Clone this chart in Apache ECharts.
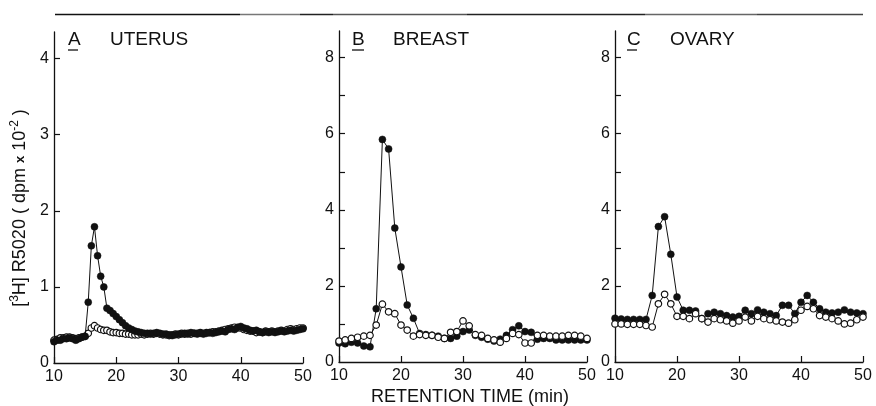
<!DOCTYPE html>
<html>
<head>
<meta charset="utf-8">
<script src="https://cdn.jsdelivr.net/npm/echarts@6/dist/echarts.min.js"></script>
<style>
  html, body { margin: 0; padding: 0; background: #fff; }
  #chart { width: 876px; height: 406px; }
</style>
</head>
<body>
<div id="chart"></div>
<script>
// Retention times (min): uterus fractions every 0.5 min, breast/ovary every 1 min
function timeGrid(start, end, step) {
  const out = [];
  for (let t = start; t <= end + 1e-9; t += step) out.push(Math.round(t * 10) / 10);
  return out;
}
const uterusTimes = timeGrid(10, 50, 0.5);
const breastOvaryTimes = timeGrid(10, 50, 1);

// [3H] R5020 bound (dpm x 10^-2) — filled = total, open = with competitor
const uterusFilled = [
  0.28, 0.30, 0.30, 0.32, 0.32, 0.33, 0.32, 0.30, 0.32, 0.34,
  0.35, 0.80, 1.54, 1.79, 1.41, 1.14, 1.00, 0.72, 0.69, 0.65,
  0.61, 0.57, 0.53, 0.49, 0.46, 0.44, 0.42, 0.41, 0.40, 0.39,
  0.39, 0.38, 0.39, 0.40, 0.39, 0.38, 0.38, 0.37, 0.36, 0.37,
  0.38, 0.38, 0.39, 0.38, 0.40, 0.39, 0.38, 0.39, 0.38, 0.39,
  0.40, 0.39, 0.40, 0.41, 0.42, 0.41, 0.44, 0.45, 0.44, 0.47,
  0.48, 0.46, 0.45, 0.43, 0.42, 0.43, 0.41, 0.40, 0.41, 0.40,
  0.41, 0.40, 0.41, 0.42, 0.41, 0.42, 0.43, 0.42, 0.43, 0.44,
  0.45
];
const uterusOpen = [
  0.30, 0.31, 0.33, 0.33, 0.34, 0.34, 0.33, 0.32, 0.33, 0.34,
  0.35, 0.39, 0.46, 0.49, 0.46, 0.44, 0.43, 0.43, 0.41, 0.40,
  0.40, 0.39, 0.39, 0.38, 0.38, 0.37, 0.37, 0.37, 0.38, 0.37,
  0.38, 0.39, 0.38, 0.39, 0.38, 0.37, 0.37, 0.36, 0.37, 0.38,
  0.37, 0.39, 0.38, 0.39, 0.38, 0.39, 0.39, 0.40, 0.39, 0.40,
  0.40, 0.41, 0.41, 0.42, 0.43, 0.44, 0.45, 0.46, 0.47, 0.46,
  0.46, 0.44, 0.43, 0.42, 0.42, 0.40, 0.41, 0.40, 0.42, 0.41,
  0.42, 0.41, 0.42, 0.43, 0.42, 0.44, 0.45, 0.44, 0.45, 0.46,
  0.46
];
const breastFilled = [
  0.50, 0.48, 0.52, 0.50, 0.42, 0.40, 1.40, 5.85, 5.60, 3.52,
  2.50, 1.50, 1.15, 0.75, 0.72, 0.70, 0.68, 0.62, 0.62, 0.68,
  0.80, 0.84, 0.70, 0.65, 0.60, 0.55, 0.60, 0.70, 0.85, 0.95,
  0.80, 0.78, 0.60, 0.62, 0.62, 0.58, 0.58, 0.58, 0.58, 0.58,
  0.58
];
const breastOpen = [
  0.55, 0.58, 0.62, 0.65, 0.68, 0.70, 0.97, 1.52, 1.32, 1.27,
  0.97, 0.84, 0.68, 0.72, 0.70, 0.70, 0.65, 0.62, 0.78, 0.80,
  1.08, 0.95, 0.72, 0.70, 0.62, 0.58, 0.52, 0.62, 0.75, 0.72,
  0.50, 0.50, 0.70, 0.70, 0.68, 0.68, 0.68, 0.70, 0.70, 0.68,
  0.62
];
const ovaryFilled = [
  1.15, 1.13, 1.12, 1.12, 1.12, 1.12, 1.75, 3.56, 3.82, 2.83,
  1.71, 1.36, 1.36, 1.34, 1.14, 1.27, 1.31, 1.27, 1.22, 1.18,
  1.20, 1.36, 1.27, 1.37, 1.31, 1.27, 1.22, 1.49, 1.49, 1.27,
  1.57, 1.75, 1.57, 1.40, 1.31, 1.29, 1.31, 1.37, 1.31, 1.29,
  1.27
];
const ovaryOpen = [
  1.00, 1.00, 0.99, 0.99, 0.99, 0.96, 0.92, 1.53, 1.78, 1.53,
  1.20, 1.20, 1.14, 1.27, 1.14, 1.05, 1.14, 1.11, 1.08, 1.02,
  1.08, 1.18, 1.08, 1.20, 1.14, 1.11, 1.08, 1.05, 1.02, 1.11,
  1.36, 1.46, 1.40, 1.22, 1.18, 1.14, 1.08, 1.00, 1.02, 1.11,
  1.18
];

const xTicks = [10, 20, 30, 40, 50];
const uterusYLabels = [0, 1, 2, 3, 4];
const uterusYTicks = [1, 2, 3, 4];
const wideYLabels = [0, 2, 4, 6, 8];
const wideYTicks = [1, 2, 3, 4, 5, 6, 7, 8];

const FONT = 'Liberation Sans';
const INK = '#111';

function pairs(times, values) {
  return times.map((t, i) => [t, values[i]]);
}

const grids = [
  { left: 54, top: 32, width: 249, height: 331 },
  { left: 339, top: 31, width: 248, height: 331 },
  { left: 615, top: 31, width: 248, height: 331 }
];

function xAxisFor(i) {
  return {
    type: 'value', gridIndex: i, min: 10, max: 50, interval: 10,
    axisLine: { lineStyle: { color: INK, width: 1.3 } },
    axisTick: { inside: true, length: 6, lineStyle: { color: INK, width: 1.2 } },
    axisLabel: { color: INK, fontSize: 16, fontFamily: FONT, margin: 6,
                 customValues: xTicks },
    splitLine: { show: false }
  };
}
function yAxisFor(i, max, labels, ticks) {
  return {
    type: 'value', gridIndex: i, min: 0, max: max,
    axisLine: { show: true, lineStyle: { color: INK, width: 1.3 } },
    axisTick: { show: true, inside: true, length: 6, lineStyle: { color: INK, width: 1.2 },
                customValues: ticks },
    axisLabel: { color: INK, fontSize: 16, fontFamily: FONT, margin: 5,
                 customValues: labels },
    splitLine: { show: false }
  };
}

function filledSeries(i, times, values, z) {
  return {
    type: 'line', xAxisIndex: i, yAxisIndex: i, data: pairs(times, values),
    symbol: 'circle', symbolSize: 7, showAllSymbol: true, z: z,
    lineStyle: { color: INK, width: 1 },
    itemStyle: { color: INK, borderColor: INK, borderWidth: 0.5 },
    emphasis: { disabled: true }
  };
}
function openSeries(i, times, values, z) {
  return {
    type: 'line', xAxisIndex: i, yAxisIndex: i, data: pairs(times, values),
    symbol: 'circle', symbolSize: 6.5, showAllSymbol: true, z: z,
    lineStyle: { color: INK, width: 1 },
    itemStyle: { color: '#fff', borderColor: INK, borderWidth: 1.2 },
    emphasis: { disabled: true }
  };
}

function label(x, text, size) {
  return { type: 'text', x: x, y: 40,
           style: { text: text, fill: INK, font: size + 'px "' + FONT + '"',
                    textAlign: 'left', textVerticalAlign: 'middle' } };
}
function underline(x1, x2) {
  return { type: 'line', shape: { x1: x1, y1: 50, x2: x2, y2: 50 },
           style: { stroke: INK, lineWidth: 1.3 } };
}
function rule(x1, x2, color) {
  return { type: 'line', shape: { x1: x1, y1: 14.5, x2: x2, y2: 14.5 },
           style: { stroke: color, lineWidth: 1.6 } };
}

const option = {
  animation: false,
  backgroundColor: '#fff',
  grid: grids.map(g => Object.assign({ containLabel: false, outerBoundsMode: 'none' }, g)),
  xAxis: [xAxisFor(0), xAxisFor(1), xAxisFor(2)],
  yAxis: [
    yAxisFor(0, 4.35, uterusYLabels, uterusYTicks),
    yAxisFor(1, 8.7, wideYLabels, wideYTicks),
    yAxisFor(2, 8.7, wideYLabels, wideYTicks)
  ],
  series: [
    openSeries(0, uterusTimes, uterusOpen, 2),
    filledSeries(0, uterusTimes, uterusFilled, 3),
    filledSeries(1, breastOvaryTimes, breastFilled, 2),
    openSeries(1, breastOvaryTimes, breastOpen, 3),
    filledSeries(2, breastOvaryTimes, ovaryFilled, 2),
    openSeries(2, breastOvaryTimes, ovaryOpen, 3)
  ],
  graphic: [
    rule(55, 240, '#111'), rule(240, 300, '#777'), rule(300, 333, '#222'),
    rule(333, 467, '#555'), rule(467, 645, '#222'), rule(645, 757, '#666'),
    rule(757, 863, '#444'),
    label(68, 'A', 19), underline(68, 78), label(110, 'UTERUS', 19),
    label(352, 'B', 19), underline(352, 364), label(393, 'BREAST', 19),
    label(627, 'C', 19), underline(627, 637), label(670, 'OVARY', 19),
    {
      type: 'text', x: 470, y: 397,
      style: { text: 'RETENTION TIME (min)', fill: INK, font: '18px "' + FONT + '"',
               textAlign: 'center', textVerticalAlign: 'middle' }
    },
    {
      type: 'text', x: 20, y: 208, rotation: Math.PI / 2,
      style: {
        text: '{n|[}{s|3}{n|H] R5020 ( dpm }{x|x}{n| 10}{s|-2}{n| )}',
        fill: INK, textAlign: 'center', textVerticalAlign: 'middle',
        rich: {
          n: { fontSize: 18, fontFamily: FONT, fill: INK, lineHeight: 22 },
          s: { fontSize: 12, fontFamily: FONT, fill: INK, verticalAlign: 'top', lineHeight: 14 },
          x: { fontSize: 13, fontFamily: FONT, fill: INK, fontWeight: 'bold', lineHeight: 22 }
        }
      }
    }
  ]
};

const chart = echarts.init(document.getElementById('chart'), null, { renderer: 'canvas' });
chart.setOption(option);
</script>
</body>
</html>
